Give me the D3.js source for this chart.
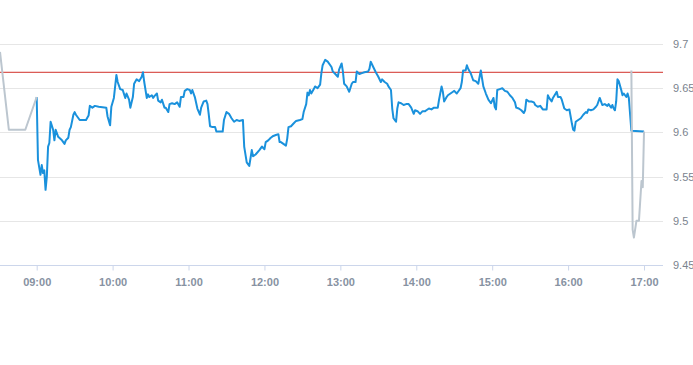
<!DOCTYPE html>
<html>
<head>
<meta charset="utf-8">
<script src="https://cdn.jsdelivr.net/npm/d3@7"></script>
<style>
  body { margin: 0; background: #fff; }
  svg text { font-family: "Liberation Sans", Arial, sans-serif; }
</style>
</head>
<body>
<div id="chart"></div>
<script>
// pre-market (grey)
var preTimes = ["08:31","08:38","08:51","09:00"];
var preValues = [9.691,9.603,9.603,9.640];

// regular session (blue)
var sessionTimes = ["09:00","09:01","09:03","09:04","09:05","09:06","09:07","09:08","09:09","09:10","09:11","09:13","09:14","09:15","09:17","09:20","09:22","09:23","09:25","09:26","09:27","09:29","09:30","09:31","09:34","09:39","09:41","09:42","09:44","09:46","09:49","09:55","09:56","09:58","09:59",
  "10:01","10:03","10:04","10:06","10:08","10:10","10:11","10:13","10:14","10:16","10:17","10:19","10:21","10:23","10:24","10:25","10:27","10:28","10:29","10:31","10:32","10:33","10:35","10:36","10:38","10:39","10:41","10:42","10:44","10:45","10:47","10:49","10:51","10:53","10:54","10:56","10:57","10:59",
  "11:01","11:02","11:03","11:05","11:07","11:09","11:10","11:12","11:14","11:15","11:16","11:17","11:19","11:21","11:22","11:25","11:27","11:28","11:30","11:32","11:34","11:36","11:38","11:40","11:43","11:44","11:46","11:48","11:50","11:51","11:53","11:56","11:58",
  "12:00","12:01","12:03","12:05","12:07","12:09","12:11","12:12","12:13","12:15","12:17","12:18","12:19","12:21","12:23","12:25","12:28","12:30","12:31","12:33","12:34","12:35","12:36","12:37","12:39","12:40","12:42","12:44","12:45","12:46","12:48","12:50","12:53","12:54","12:56","12:58","12:59",
  "13:01","13:02","13:03","13:05","13:06","13:07","13:09","13:10","13:12","13:13","13:15","13:17","13:19","13:22","13:23","13:24","13:26","13:28","13:30","13:32","13:33","13:35","13:37","13:38","13:40","13:41","13:42","13:44","13:45","13:46","13:48","13:50","13:52","13:54","13:56","13:58","13:59",
  "14:01","14:03","14:05","14:07","14:08","14:10","14:12","14:14","14:17","14:18","14:20","14:21","14:22","14:24","14:25","14:27","14:29","14:30","14:32","14:33","14:35","14:36","14:37","14:39","14:40","14:41","14:43","14:45","14:47","14:49","14:51","14:52","14:53","14:55","14:57","14:59",
  "15:01","15:02","15:03","15:04","15:06","15:08","15:10","15:12","15:14","15:16","15:18","15:19","15:21","15:23","15:25","15:26","15:27","15:29","15:31","15:33","15:34","15:36","15:38","15:40","15:43","15:44","15:45","15:47","15:48","15:51","15:52","15:54","15:55","15:57","15:59",
  "16:01","16:02","16:03","16:04","16:05","16:06","16:08","16:10","16:12","16:14","16:15","16:16","16:18","16:20","16:22","16:23","16:25","16:26","16:27","16:29","16:31","16:32","16:34","16:35","16:36","16:37","16:38","16:39","16:40","16:42","16:43","16:44","16:46","16:47","16:48","16:50","17:00"];
var sessionValues = [9.640,9.569,9.552,9.563,9.554,9.557,9.535,9.550,9.584,9.588,9.612,9.603,9.591,9.603,9.595,9.591,9.587,9.591,9.594,9.603,9.606,9.620,9.623,9.620,9.614,9.614,9.619,9.630,9.628,9.630,9.629,9.628,9.618,9.608,9.629,
  9.639,9.665,9.657,9.649,9.648,9.639,9.644,9.637,9.628,9.640,9.655,9.660,9.658,9.663,9.668,9.657,9.639,9.643,9.640,9.642,9.639,9.641,9.644,9.636,9.634,9.637,9.628,9.628,9.623,9.632,9.633,9.632,9.634,9.629,9.640,9.640,9.647,9.649,
  9.648,9.644,9.648,9.640,9.627,9.620,9.628,9.635,9.636,9.632,9.620,9.607,9.606,9.606,9.601,9.601,9.601,9.614,9.623,9.621,9.616,9.612,9.614,9.613,9.614,9.584,9.566,9.562,9.580,9.573,9.575,9.580,9.584,
  9.581,9.589,9.591,9.594,9.596,9.597,9.598,9.589,9.589,9.587,9.585,9.593,9.606,9.607,9.610,9.613,9.614,9.615,9.623,9.632,9.645,9.642,9.648,9.644,9.649,9.652,9.650,9.654,9.667,9.676,9.682,9.680,9.674,9.669,9.666,9.663,9.671,
  9.678,9.669,9.655,9.652,9.649,9.646,9.655,9.657,9.657,9.669,9.666,9.667,9.668,9.669,9.672,9.680,9.674,9.668,9.663,9.657,9.660,9.657,9.655,9.652,9.648,9.627,9.616,9.612,9.627,9.634,9.633,9.631,9.632,9.632,9.628,9.621,9.625,
  9.624,9.621,9.624,9.624,9.625,9.627,9.626,9.628,9.628,9.637,9.652,9.646,9.635,9.640,9.642,9.644,9.646,9.647,9.644,9.646,9.650,9.657,9.670,9.670,9.676,9.672,9.667,9.659,9.658,9.655,9.670,9.661,9.652,9.644,9.637,9.633,
  9.639,9.629,9.626,9.648,9.649,9.650,9.647,9.646,9.642,9.639,9.634,9.628,9.627,9.625,9.622,9.625,9.637,9.635,9.635,9.634,9.631,9.629,9.630,9.626,9.626,9.642,9.639,9.635,9.639,9.646,9.640,9.640,9.637,9.627,9.625,
  9.626,9.618,9.610,9.603,9.602,9.612,9.614,9.616,9.620,9.623,9.622,9.626,9.625,9.626,9.629,9.631,9.639,9.635,9.631,9.632,9.630,9.632,9.628,9.631,9.627,9.625,9.635,9.660,9.658,9.648,9.642,9.644,9.640,9.644,9.639,9.602,9.601];

// after-hours (grey)
var postTimes = ["16:50","16:51","16:52","16:54","16:56","16:58","16:59","17:00"];
var postValues = [9.670,9.490,9.481,9.500,9.500,9.545,9.538,9.601];

var prevClose = 9.668;

var yTicks = [9.45,9.5,9.55,9.6,9.65,9.7];
var xTickLabels = ["09:00","10:00","11:00","12:00","13:00","14:00","15:00","16:00","17:00"];
var xDomain = ["08:31","17:15"];

var width = 693, height = 365;
var plotLeft = 0, plotRight = 663, plotTop = 44, plotBottom = 265;

var parseTime = d3.timeParse("%H:%M");

var svg = d3.select("#chart").append("svg")
    .attr("width", width)
    .attr("height", height);

var x = d3.scaleTime()
    .domain(xDomain.map(parseTime))
    .range([plotLeft, plotRight]);

var y = d3.scaleLinear()
    .domain([9.45, 9.7])
    .range([plotBottom, plotTop]);

// horizontal grid
svg.append("g").selectAll("line")
    .data(yTicks.slice(1))
    .enter().append("line")
    .attr("x1", plotLeft)
    .attr("x2", plotRight)
    .attr("y1", function(d) { return Math.round(y(d)) + 0.5; })
    .attr("y2", function(d) { return Math.round(y(d)) + 0.5; })
    .attr("stroke", "#e6e6e6")
    .attr("stroke-width", 1);

// y labels on the right
svg.append("g").selectAll("text")
    .data(yTicks)
    .enter().append("text")
    .attr("x", 673)
    .attr("y", function(d) { return y(d) + 4; })
    .style("font-size", "11px")
    .style("fill", "#7a838e")
    .text(function(d) { return d3.format("")(+d.toFixed(2)); });

// x axis
var xAxis = d3.axisBottom(x)
    .tickValues(xTickLabels.map(parseTime))
    .tickSize(5)
    .tickFormat(d3.timeFormat("%H:%M"));

var gx = svg.append("g")
    .attr("transform", "translate(0," + (plotBottom + 0.5) + ")")
    .call(xAxis);
gx.select(".domain").attr("stroke", "#ccd6eb").attr("d", "M" + plotLeft + ",0H" + plotRight);
gx.selectAll(".tick line").attr("stroke", "#ccd6eb");
gx.selectAll(".tick text")
    .attr("y", 13)
    .style("font-family", "'Liberation Sans', Arial, sans-serif")
    .style("font-size", "11px")
    .style("font-weight", "bold")
    .style("fill", "#8792a2");

// previous close line
svg.append("line")
    .attr("x1", plotLeft)
    .attr("x2", plotRight)
    .attr("y1", y(prevClose))
    .attr("y2", y(prevClose))
    .attr("stroke", "#d2302a")
    .attr("stroke-width", 1);

var line = d3.line()
    .x(function(d) { return x(d.t); })
    .y(function(d) { return y(d.v); });

function series(times, values) {
  return times.map(function(t, i) { return { t: parseTime(t), v: values[i] }; });
}

svg.append("path")
    .datum(series(sessionTimes, sessionValues))
    .attr("d", line)
    .attr("fill", "none")
    .attr("stroke", "#1a91dc")
    .attr("stroke-width", 2)
    .attr("stroke-linejoin", "round");

svg.append("path")
    .datum(series(preTimes, preValues))
    .attr("d", line)
    .attr("fill", "none")
    .attr("stroke", "#bcc6cf")
    .attr("stroke-width", 2)
    .attr("stroke-linejoin", "round");

svg.append("path")
    .datum(series(postTimes, postValues))
    .attr("d", line)
    .attr("fill", "none")
    .attr("stroke", "#bcc6cf")
    .attr("stroke-width", 2)
    .attr("stroke-linejoin", "round");
</script>
</body>
</html>
